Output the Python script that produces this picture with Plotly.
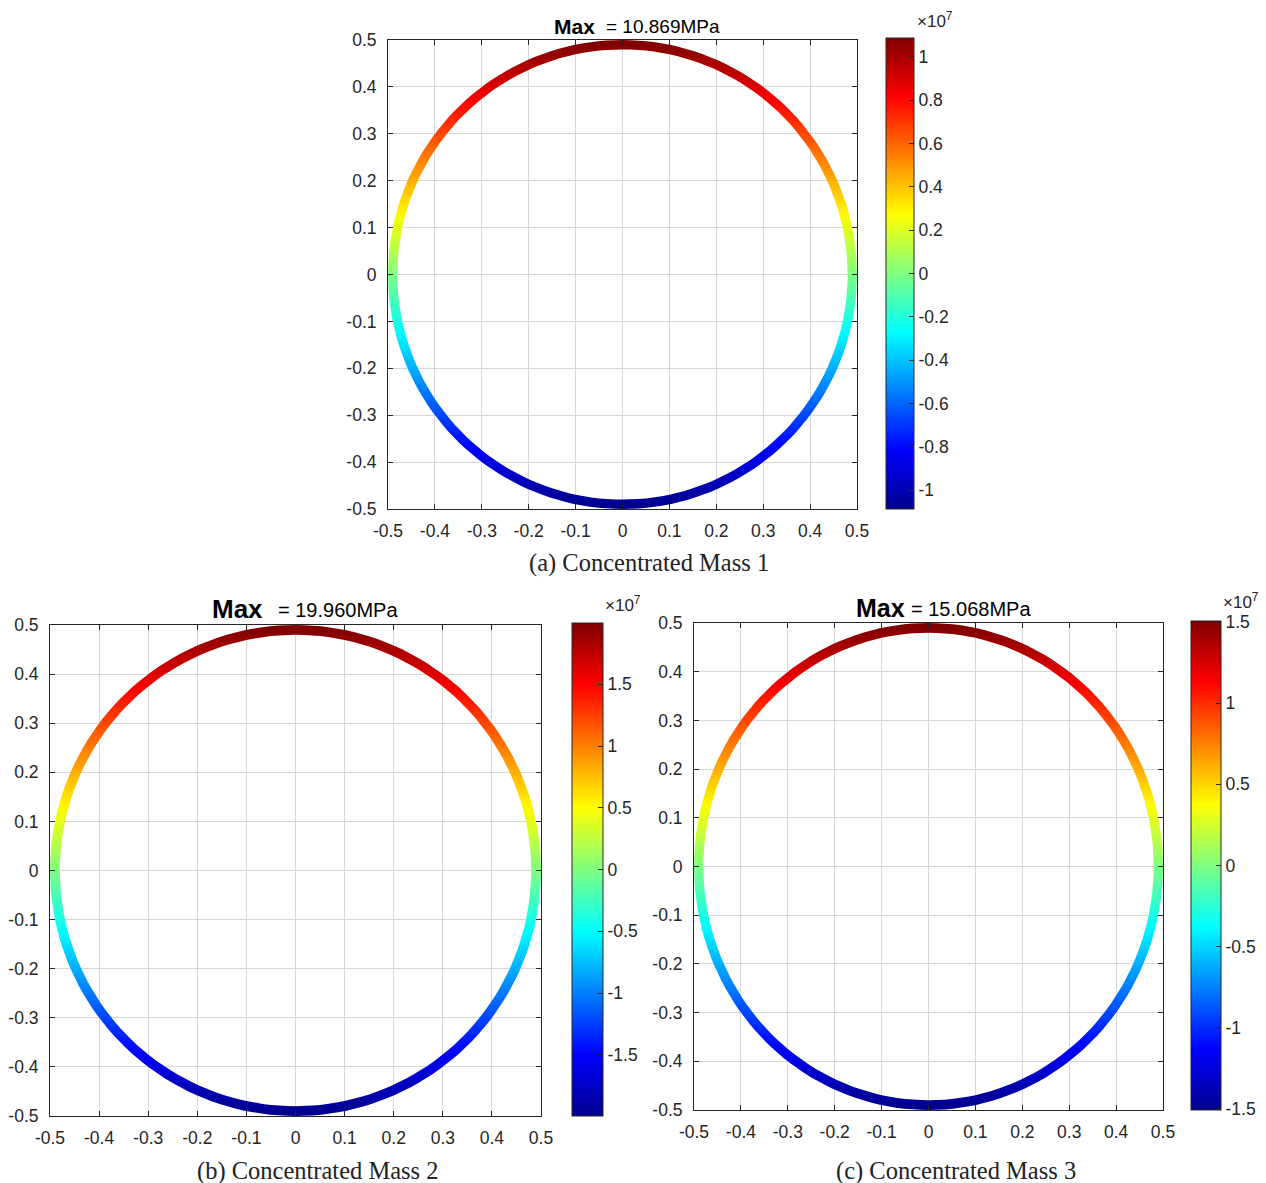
import math
import plotly.graph_objects as go
import plotly.colors as pc

W, H = 1266, 1183

# ---------------- data ----------------
angles_deg = list(range(0, 360, 5))  # sample positions around the ring (deg, CCW from +x)

# hoop stress (MPa) read around the ring, one value per angle above
stress_a = [0.00, 0.95, 1.89, 2.81, 3.72, 4.59, 5.43, 6.23, 6.99, 7.69, 8.33, 8.90,
            9.41, 9.85, 10.21, 10.50, 10.70, 10.83, 10.87, 10.83, 10.70, 10.50, 10.21, 9.85,
            9.41, 8.90, 8.33, 7.69, 6.99, 6.23, 5.43, 4.59, 3.72, 2.81, 1.89, 0.95,
            0.00, -0.95, -1.89, -2.81, -3.72, -4.59, -5.43, -6.23, -6.99, -7.69, -8.33, -8.90,
            -9.41, -9.85, -10.21, -10.50, -10.70, -10.83, -10.87, -10.83, -10.70, -10.50, -10.21, -9.85,
            -9.41, -8.90, -8.33, -7.69, -6.99, -6.23, -5.43, -4.59, -3.72, -2.81, -1.89, -0.95]
stress_b = [0.00, 1.74, 3.47, 5.17, 6.83, 8.44, 9.98, 11.45, 12.83, 14.11, 15.29, 16.35,
            17.29, 18.09, 18.76, 19.28, 19.66, 19.88, 19.96, 19.88, 19.66, 19.28, 18.76, 18.09,
            17.29, 16.35, 15.29, 14.11, 12.83, 11.45, 9.98, 8.44, 6.83, 5.17, 3.47, 1.74,
            0.00, -1.74, -3.47, -5.17, -6.83, -8.44, -9.98, -11.45, -12.83, -14.11, -15.29, -16.35,
            -17.29, -18.09, -18.76, -19.28, -19.66, -19.88, -19.96, -19.88, -19.66, -19.28, -18.76, -18.09,
            -17.29, -16.35, -15.29, -14.11, -12.83, -11.45, -9.98, -8.44, -6.83, -5.17, -3.47, -1.74]
stress_c = [0.00, 1.31, 2.62, 3.90, 5.15, 6.37, 7.53, 8.64, 9.69, 10.65, 11.54, 12.34,
            13.05, 13.66, 14.16, 14.55, 14.84, 15.01, 15.07, 15.01, 14.84, 14.55, 14.16, 13.66,
            13.05, 12.34, 11.54, 10.65, 9.69, 8.64, 7.53, 6.37, 5.15, 3.90, 2.62, 1.31,
            0.00, -1.31, -2.62, -3.90, -5.15, -6.37, -7.53, -8.64, -9.69, -10.65, -11.54, -12.34,
            -13.05, -13.66, -14.16, -14.55, -14.84, -15.01, -15.07, -15.01, -14.84, -14.55, -14.16, -13.66,
            -13.05, -12.34, -11.54, -10.65, -9.69, -8.64, -7.53, -6.37, -5.15, -3.90, -2.62, -1.31]
max_vals = [10.869, 19.960, 15.068]  # MPa

axis_tickvals = [-0.5, -0.4, -0.3, -0.2, -0.1, 0, 0.1, 0.2, 0.3, 0.4, 0.5]
axis_ticktext = ["-0.5", "-0.4", "-0.3", "-0.2", "-0.1", "0", "0.1", "0.2", "0.3", "0.4", "0.5"]
cbar_tickvals_a = [-10, -8, -6, -4, -2, 0, 2, 4, 6, 8, 10]
cbar_ticktext_a = ["-1", "-0.8", "-0.6", "-0.4", "-0.2", "0", "0.2", "0.4", "0.6", "0.8", "1"]
cbar_tickvals_bc = [-15, -10, -5, 0, 5, 10, 15]
cbar_ticktext_bc = ["-1.5", "-1", "-0.5", "0", "0.5", "1", "1.5"]
captions = ["(a) Concentrated Mass 1", "(b) Concentrated Mass 2", "(c) Concentrated Mass 3"]

# ---------------- style ----------------
JET = [[0.0, "rgb(0,0,143)"], [0.125, "rgb(0,0,255)"], [0.375, "rgb(0,255,255)"],
       [0.625, "rgb(255,255,0)"], [0.875, "rgb(255,0,0)"], [1.0, "rgb(128,0,0)"]]
R_IN, R_OUT = 0.48, 0.50
R_MID = 0.5 * (R_IN + R_OUT)
N_EDGE = 180
SANS = "Liberation Sans, Arial, sans-serif"
SERIF = "Liberation Serif, Times New Roman, serif"
AX_COL = "#262626"
GRID_COL = "#d8d8d8"
TICK_SIZE = 17.5


def px(x):
    return x / W


def py(y):
    return 1 - y / H


panels = [
    dict(stress=stress_a, mx=max_vals[0], box=(388, 857, 40, 509), cbar=(886, 28, 38, 509),
         cticks=(cbar_tickvals_a, cbar_ticktext_a),
         t_max=(597, 26, 21), t_val=(604, 26, 19), exp=(935, 20), cap=(649, 563)),
    dict(stress=stress_b, mx=max_vals[1], box=(50, 541, 625, 1116), cbar=(572, 31, 623, 1116),
         cticks=(cbar_tickvals_bc, cbar_ticktext_bc),
         t_max=(265, 609, 26), t_val=(276, 610, 20), exp=(623, 604), cap=(318, 1171)),
    dict(stress=stress_c, mx=max_vals[2], box=(694, 1163, 623, 1110), cbar=(1191, 30, 621, 1110),
         cticks=(cbar_tickvals_bc, cbar_ticktext_bc),
         t_max=(907, 608, 25), t_val=(909, 609, 20), exp=(1241, 601), cap=(956, 1171)),
]

# ring outline (annulus as one closed path: outer CCW, inner CW)
outer_t = [2 * math.pi * j / N_EDGE for j in range(N_EDGE + 1)]
ring_x = [R_OUT * math.cos(t) for t in outer_t] + [R_IN * math.cos(t) for t in reversed(outer_t)]
ring_y = [R_OUT * math.sin(t) for t in outer_t] + [R_IN * math.sin(t) for t in reversed(outer_t)]

fig = go.Figure()
annotations = []
layout_axes = {}

for k, p in enumerate(panels):
    n = "" if k == 0 else str(k + 1)
    xref, yref = "x" + n, "y" + n
    x0, x1, y0, y1 = p["box"]
    cmin, cmax = -p["mx"], p["mx"]

    # build a vertical colour gradient from the sampled stresses (stress position -> height)
    ys = [R_MID * math.sin(math.radians(a)) for a in angles_deg]
    y_lo, y_hi = min(ys), max(ys)
    stops = {}
    for yv, sv in zip(ys, p["stress"]):
        t = round((yv - y_lo) / (y_hi - y_lo), 6)
        stops.setdefault(t, []).append(min(max((sv - cmin) / (cmax - cmin), 0.0), 1.0))
    ts = sorted(stops)
    cols = pc.sample_colorscale(JET, [sum(stops[t]) / len(stops[t]) for t in ts])
    grad = [[t, c] for t, c in zip(ts, cols)]

    fig.add_trace(go.Scatter(x=ring_x, y=ring_y, mode="lines", fill="toself",
                             fillgradient=dict(type="vertical", colorscale=grad,
                                               start=y_lo, stop=y_hi),
                             line=dict(width=0), hoverinfo="skip", showlegend=False,
                             xaxis=xref, yaxis=yref))

    # colorbar carrier
    cx, cth, cy0, cy1 = p["cbar"]
    tv, tt = p["cticks"]
    ca = "coloraxis" + n
    fig.add_trace(go.Scatter(x=[0, 0], y=[0, 0], mode="markers",
                             marker=dict(color=[cmin, cmax], coloraxis=ca, opacity=0, size=1),
                             hoverinfo="skip", showlegend=False, xaxis=xref, yaxis=yref))
    layout_axes[ca] = dict(
        colorscale=JET, cmin=cmin, cmax=cmax,
        colorbar=dict(x=px(cx), xanchor="left", y=py(cy0), yanchor="top",
                      len=(cy1 - cy0) / H, lenmode="fraction", thickness=cth, thicknessmode="pixels",
                      xpad=0, ypad=0, outlinewidth=1, outlinecolor=AX_COL,
                      ticks="inside", ticklen=5, tickcolor=AX_COL, tickwidth=1,
                      tickvals=tv, ticktext=tt, tickprefix="\u00a0",
                      tickfont=dict(family=SANS, size=TICK_SIZE, color="#262626")))
    common = dict(range=[-0.5, 0.5], tickvals=axis_tickvals, ticktext=axis_ticktext,
                  ticks="inside", ticklen=5, tickcolor=AX_COL, showline=True, linecolor=AX_COL,
                  linewidth=1, mirror="allticks", showgrid=True, gridcolor=GRID_COL, gridwidth=1,
                  zeroline=False, automargin=False,
                  tickfont=dict(family=SANS, size=TICK_SIZE, color="#262626"),
                  fixedrange=True)
    layout_axes["xaxis" + n] = dict(common, domain=[px(x0), px(x1)], anchor=yref,
                                    ticklabelstandoff=6)
    layout_axes["yaxis" + n] = dict(common, domain=[py(y1), py(y0)], anchor=xref,
                                    ticklabelstandoff=7)

    tmx, tmy, tms = p["t_max"]
    annotations.append(dict(x=px(tmx), y=py(tmy), xref="paper", yref="paper", text="<b>Max</b>",
                            showarrow=False, xanchor="right", yanchor="middle",
                            font=dict(family=SANS, size=tms, color="black")))
    tvx, tvy, tvs = p["t_val"]
    annotations.append(dict(x=px(tvx), y=py(tvy), xref="paper", yref="paper",
                            text="= %.3fMPa" % p["mx"], showarrow=False, xanchor="left",
                            yanchor="middle", font=dict(family=SANS, size=tvs, color="black")))
    ex, ey = p["exp"]
    annotations.append(dict(x=px(ex), y=py(ey), xref="paper", yref="paper",
                            text="\u00d710<sup>7</sup>", showarrow=False, xanchor="center",
                            yanchor="middle", font=dict(family=SANS, size=17, color="#262626")))
    capx, capy = p["cap"]
    annotations.append(dict(x=px(capx), y=py(capy), xref="paper", yref="paper",
                            text=captions[k], showarrow=False, xanchor="center", yanchor="middle",
                            font=dict(family=SERIF, size=24.5, color="#222222")))

fig.update_layout(width=W, height=H, margin=dict(l=0, r=0, t=0, b=0, autoexpand=False),
                  paper_bgcolor="white", plot_bgcolor="white", showlegend=False,
                  annotations=annotations, **layout_axes)

fig.write_html("out.html", config={"displayModeBar": False},
               post_script="document.body.style.margin='0';document.body.style.padding='0';"
                           "document.documentElement.style.overflow='hidden';")
